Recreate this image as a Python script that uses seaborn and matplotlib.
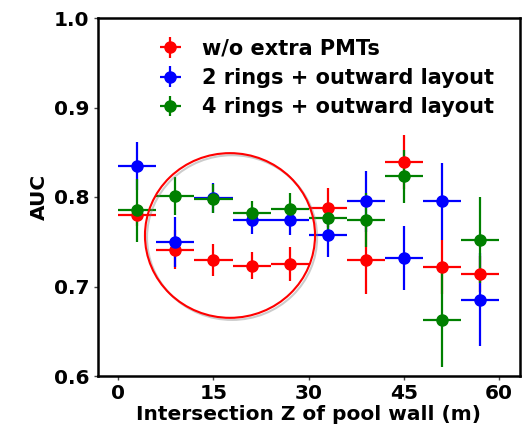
import numpy as np
import pandas as pd
import matplotlib
matplotlib.use("Agg")
import matplotlib.pyplot as plt
import seaborn as sns
from matplotlib.patches import Ellipse
import matplotlib.patheffects as pe

# ---- data ----
z_centers = [3, 9, 15, 21, 27, 33, 39, 45, 51, 57]
z_halfwidth = [3] * 10

labels = ["w/o extra PMTs", "2 rings + outward layout", "4 rings + outward layout"]
colors = ["red", "blue", "green"]

auc_red = [0.780, 0.741, 0.730, 0.723, 0.725, 0.788, 0.730, 0.839, 0.722, 0.714]
err_red = [0.012, 0.022, 0.018, 0.015, 0.019, 0.022, 0.038, 0.030, 0.030, 0.020]

auc_blue = [0.835, 0.750, 0.799, 0.774, 0.774, 0.758, 0.795, 0.732, 0.795, 0.685]
err_blue = [0.027, 0.028, 0.017, 0.015, 0.017, 0.025, 0.034, 0.036, 0.043, 0.052]

auc_green = [0.785, 0.801, 0.798, 0.782, 0.787, 0.777, 0.774, 0.823, 0.663, 0.752]
err_green = [0.035, 0.021, 0.016, 0.013, 0.018, 0.015, 0.030, 0.030, 0.053, 0.048]

series = [(auc_red, err_red), (auc_blue, err_blue), (auc_green, err_green)]

xticks = [0, 15, 30, 45, 60]
yticks = [0.6, 0.7, 0.8, 0.9, 1.0]

# ---- plot ----
sns.set_theme(style="ticks")
plt.rcParams["font.family"] = ["DejaVu Sans"]
plt.rcParams["font.weight"] = "bold"
plt.rcParams["text.color"] = "black"
plt.rcParams["axes.labelcolor"] = "black"
plt.rcParams["xtick.color"] = "#444444"
plt.rcParams["ytick.color"] = "#444444"
plt.rcParams["xtick.labelcolor"] = "black"
plt.rcParams["ytick.labelcolor"] = "black"

fig = plt.figure(figsize=(5.27, 4.30), dpi=100)
ax = fig.add_axes([98 / 527, 1 - 376 / 430, (520 - 98) / 527, (376 - 18) / 430])

for (vals, errs), lab, col in zip(series, labels, colors):
    df = pd.DataFrame({"z": z_centers, "auc": vals})
    ax.errorbar(df["z"], df["auc"], xerr=z_halfwidth, yerr=errs, fmt="o",
                color=col, ecolor=col, markersize=8, elinewidth=1.6,
                capsize=0, label=lab)

ell = Ellipse((17.6, 0.757), width=26.8, height=0.184, fill=False,
              edgecolor="red", linewidth=1.5, zorder=5,
              path_effects=[pe.SimpleLineShadow(offset=(1.5, -1.5), shadow_color="gray", alpha=0.4),
                            pe.Normal()])
ax.add_patch(ell)

ax.set_xlim(-3.2, 63.3)
ax.set_ylim(0.6, 1.0)
ax.set_xticks(xticks)
ax.set_yticks(yticks)
ax.set_xticklabels([str(t) for t in xticks], fontsize=14.5, fontweight="bold")
ax.set_yticklabels([f"{t:.1f}" for t in yticks], fontsize=14.5, fontweight="bold")
ax.set_xlabel("Intersection Z of pool wall (m)", fontsize=14.5, fontweight="bold", labelpad=1)
ax.set_ylabel("AUC", fontsize=14.5, fontweight="bold", labelpad=4)
for s in ax.spines.values():
    s.set_linewidth(1.8)
    s.set_color("black")
ax.tick_params(direction="out", length=3, width=1.0, pad=3)

leg = ax.legend(loc="upper left", bbox_to_anchor=(0.1, 0.995), frameon=False,
                prop={"size": 15, "weight": "bold"}, handletextpad=0.95,
                labelspacing=0.45, handlelength=1.1)

fig.savefig("out.png", dpi=100)
